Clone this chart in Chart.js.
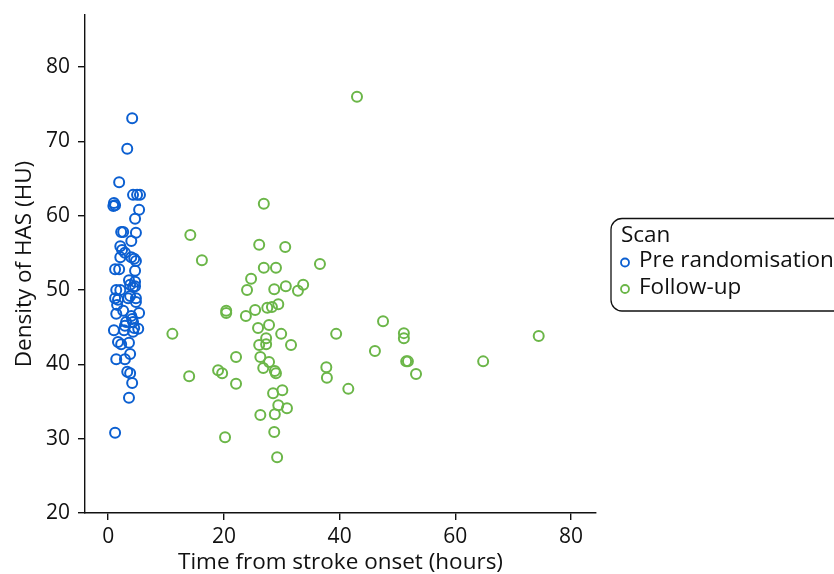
<!DOCTYPE html>
<html><head><meta charset="utf-8">
<script src="https://cdn.jsdelivr.net/npm/chart.js@4/dist/chart.umd.min.js"></script>
<style>html,body{margin:0;padding:0;background:#fff}#wrap{width:834px;height:574px;position:relative}</style>
</head><body><div id="wrap"><canvas id="c" width="834" height="574"></canvas></div>
<script>
const preX = [4.15,3.3,1.9,1.0,0.9,1.2,4.3,5.0,5.5,5.35,4.65,4.8,2.25,2.6,4.0,2.1,2.4,2.9,4.0,4.5,4.8,2.1,1.2,1.9,4.65,3.6,4.65,4.65,3.8,4.3,1.4,2.1,1.2,1.7,3.45,3.8,4.8,4.8,1.55,2.6,5.35,4.0,4.15,4.3,1.4,3.1,2.9,2.75,4.5,5.2,1.0,4.3,3.6,1.7,2.25,3.8,1.4,2.9,3.3,3.8,4.15,3.6,1.2];
const preY = [73.1,69.0,64.5,61.7,61.3,61.4,62.8,62.8,62.8,60.8,59.6,57.7,57.8,57.8,56.6,55.9,55.4,55.0,54.4,54.2,53.9,54.4,52.8,52.8,52.6,51.3,51.1,50.5,50.7,50.4,50.0,50.0,48.9,48.7,48.9,49.2,48.9,48.4,48.0,47.2,46.9,46.5,46.1,45.7,46.8,45.7,45.2,44.6,44.9,44.8,44.6,44.4,42.9,43.0,42.7,41.4,40.7,40.7,39.0,38.8,37.5,35.5,30.8];
const fuX = [43.0,26.9,14.2,26.1,30.6,16.2,36.6,26.9,29.0,24.7,33.7,30.7,28.7,32.8,24.0,29.4,28.3,20.4,20.4,27.5,25.4,23.8,47.5,27.8,25.9,11.1,29.9,39.4,51.1,51.1,74.4,27.3,27.3,26.1,31.6,46.1,22.1,26.3,27.8,51.5,51.8,64.8,26.8,37.7,28.8,29.0,19.0,19.7,53.2,14.0,37.8,22.1,41.5,30.1,28.5,29.4,30.9,26.3,28.8,28.7,20.2,29.2];
const fuY = [76.0,61.6,57.4,56.1,55.8,54.0,53.5,53.0,53.0,51.5,50.7,50.5,50.1,49.9,50.0,48.1,47.7,47.2,46.9,47.6,47.3,46.5,45.8,45.3,44.9,44.1,44.1,44.1,44.2,43.5,43.8,43.5,42.7,42.6,42.6,41.8,41.0,41.0,40.3,40.4,40.4,40.4,39.5,39.6,39.1,38.8,39.2,38.8,38.7,38.4,38.2,37.4,36.7,36.5,36.1,34.5,34.1,33.2,33.3,30.9,30.2,27.5];
const xTicks = [0,20,40,60,80];
const yTicks = [20,30,40,50,60,70,80];
const seriesNames = ['Pre randomisation','Follow-up'];
const legendTitle = 'Scan';
const xTitle = 'Time from stroke onset (hours)';
const yTitle = 'Density of HAS (HU)';

const BLUE = '#0b5fd1', GREEN = '#6bb648';
const FONT = "'Open Sans', 'Noto Sans', sans-serif";
const toPts = (xs, ys) => xs.map((x,i)=>({x, y: ys[i]}));

const legendPlugin = {
  id: 'boxLegend',
  afterDraw(chart) {
    const ctx = chart.ctx;
    ctx.save();
    const x0 = 611, y0 = 218.5, w = 240, h = 92.5, r = 11;
    ctx.beginPath();
    ctx.moveTo(x0+r, y0); ctx.lineTo(x0+w-r, y0); ctx.arcTo(x0+w, y0, x0+w, y0+r, r);
    ctx.lineTo(x0+w, y0+h-r); ctx.arcTo(x0+w, y0+h, x0+w-r, y0+h, r);
    ctx.lineTo(x0+r, y0+h); ctx.arcTo(x0, y0+h, x0, y0+h-r, r);
    ctx.lineTo(x0, y0+r); ctx.arcTo(x0, y0, x0+r, y0, r);
    ctx.closePath();
    ctx.lineWidth = 1.3; ctx.strokeStyle = '#111'; ctx.stroke();
    ctx.fillStyle = '#111';
    ctx.font = '22.5px ' + FONT;
    ctx.textBaseline = 'middle';
    ctx.textAlign = 'left';
    ctx.fillText(legendTitle, 621, 235.5);
    const cols = [BLUE, GREEN];
    const ys = [262.5, 289];
    seriesNames.forEach((n,i)=>{
      ctx.beginPath(); ctx.arc(625, ys[i], 4, 0, Math.PI*2);
      ctx.lineWidth = 1.8; ctx.strokeStyle = cols[i]; ctx.stroke();
      ctx.fillStyle = '#111';
      ctx.fillText(n, 639, ys[i] - 1.5);
    });
    ctx.restore();
  }
};

new Chart(document.getElementById('c'), {
  type: 'scatter',
  data: { datasets: [
    { label: seriesNames[0], data: toPts(preX, preY), borderColor: BLUE, backgroundColor: 'rgba(0,0,0,0)', pointRadius: 5, pointBorderWidth: 2, pointHoverRadius: 5 },
    { label: seriesNames[1], data: toPts(fuX, fuY), borderColor: GREEN, backgroundColor: 'rgba(0,0,0,0)', pointRadius: 5, pointBorderWidth: 2, pointHoverRadius: 5 }
  ]},
  options: {
    responsive: false, animation: false, devicePixelRatio: 1,
    layout: { padding: { left: 0, top: 15, right: 238, bottom: 0 } },
    plugins: { legend: { display: false }, tooltip: { enabled: false } },
    scales: {
      x: {
        type: 'linear', min: -4, max: 84.3,
        afterBuildTicks: s => { s.ticks = xTicks.map(v=>({value:v})); },
        afterFit: s => { s.height = 61; s.paddingLeft = 0; s.paddingRight = 0; },
        grid: { drawOnChartArea: false, drawTicks: true, tickLength: 7, color: '#111', lineWidth: 1.4 },
        border: { color: '#111', width: 1.4 },
        ticks: { color: '#111', font: { size: 21, family: FONT }, padding: 4, maxRotation: 0 },
        title: { display: true, text: xTitle, color: '#111', font: { size: 22.5, family: FONT, lineHeight: 1.2 }, padding: { top: 0, bottom: -2 } }
      },
      y: {
        type: 'linear', min: 20, max: 87,
        afterBuildTicks: s => { s.ticks = yTicks.map(v=>({value:v})); },
        afterFit: s => { s.width = 85; s.paddingTop = 0; s.paddingBottom = 0; },
        grid: { drawOnChartArea: false, drawTicks: true, tickLength: 7, color: '#111', lineWidth: 1.4 },
        border: { color: '#111', width: 1.4 },
        ticks: { color: '#111', font: { size: 21, family: FONT }, padding: 8 },
        title: { display: true, text: yTitle, color: '#111', font: { size: 22.5, family: FONT, lineHeight: 1.2 }, padding: { top: 11, bottom: 0 } }
      }
    }
  },
  plugins: [legendPlugin]
});
</script></body></html>
